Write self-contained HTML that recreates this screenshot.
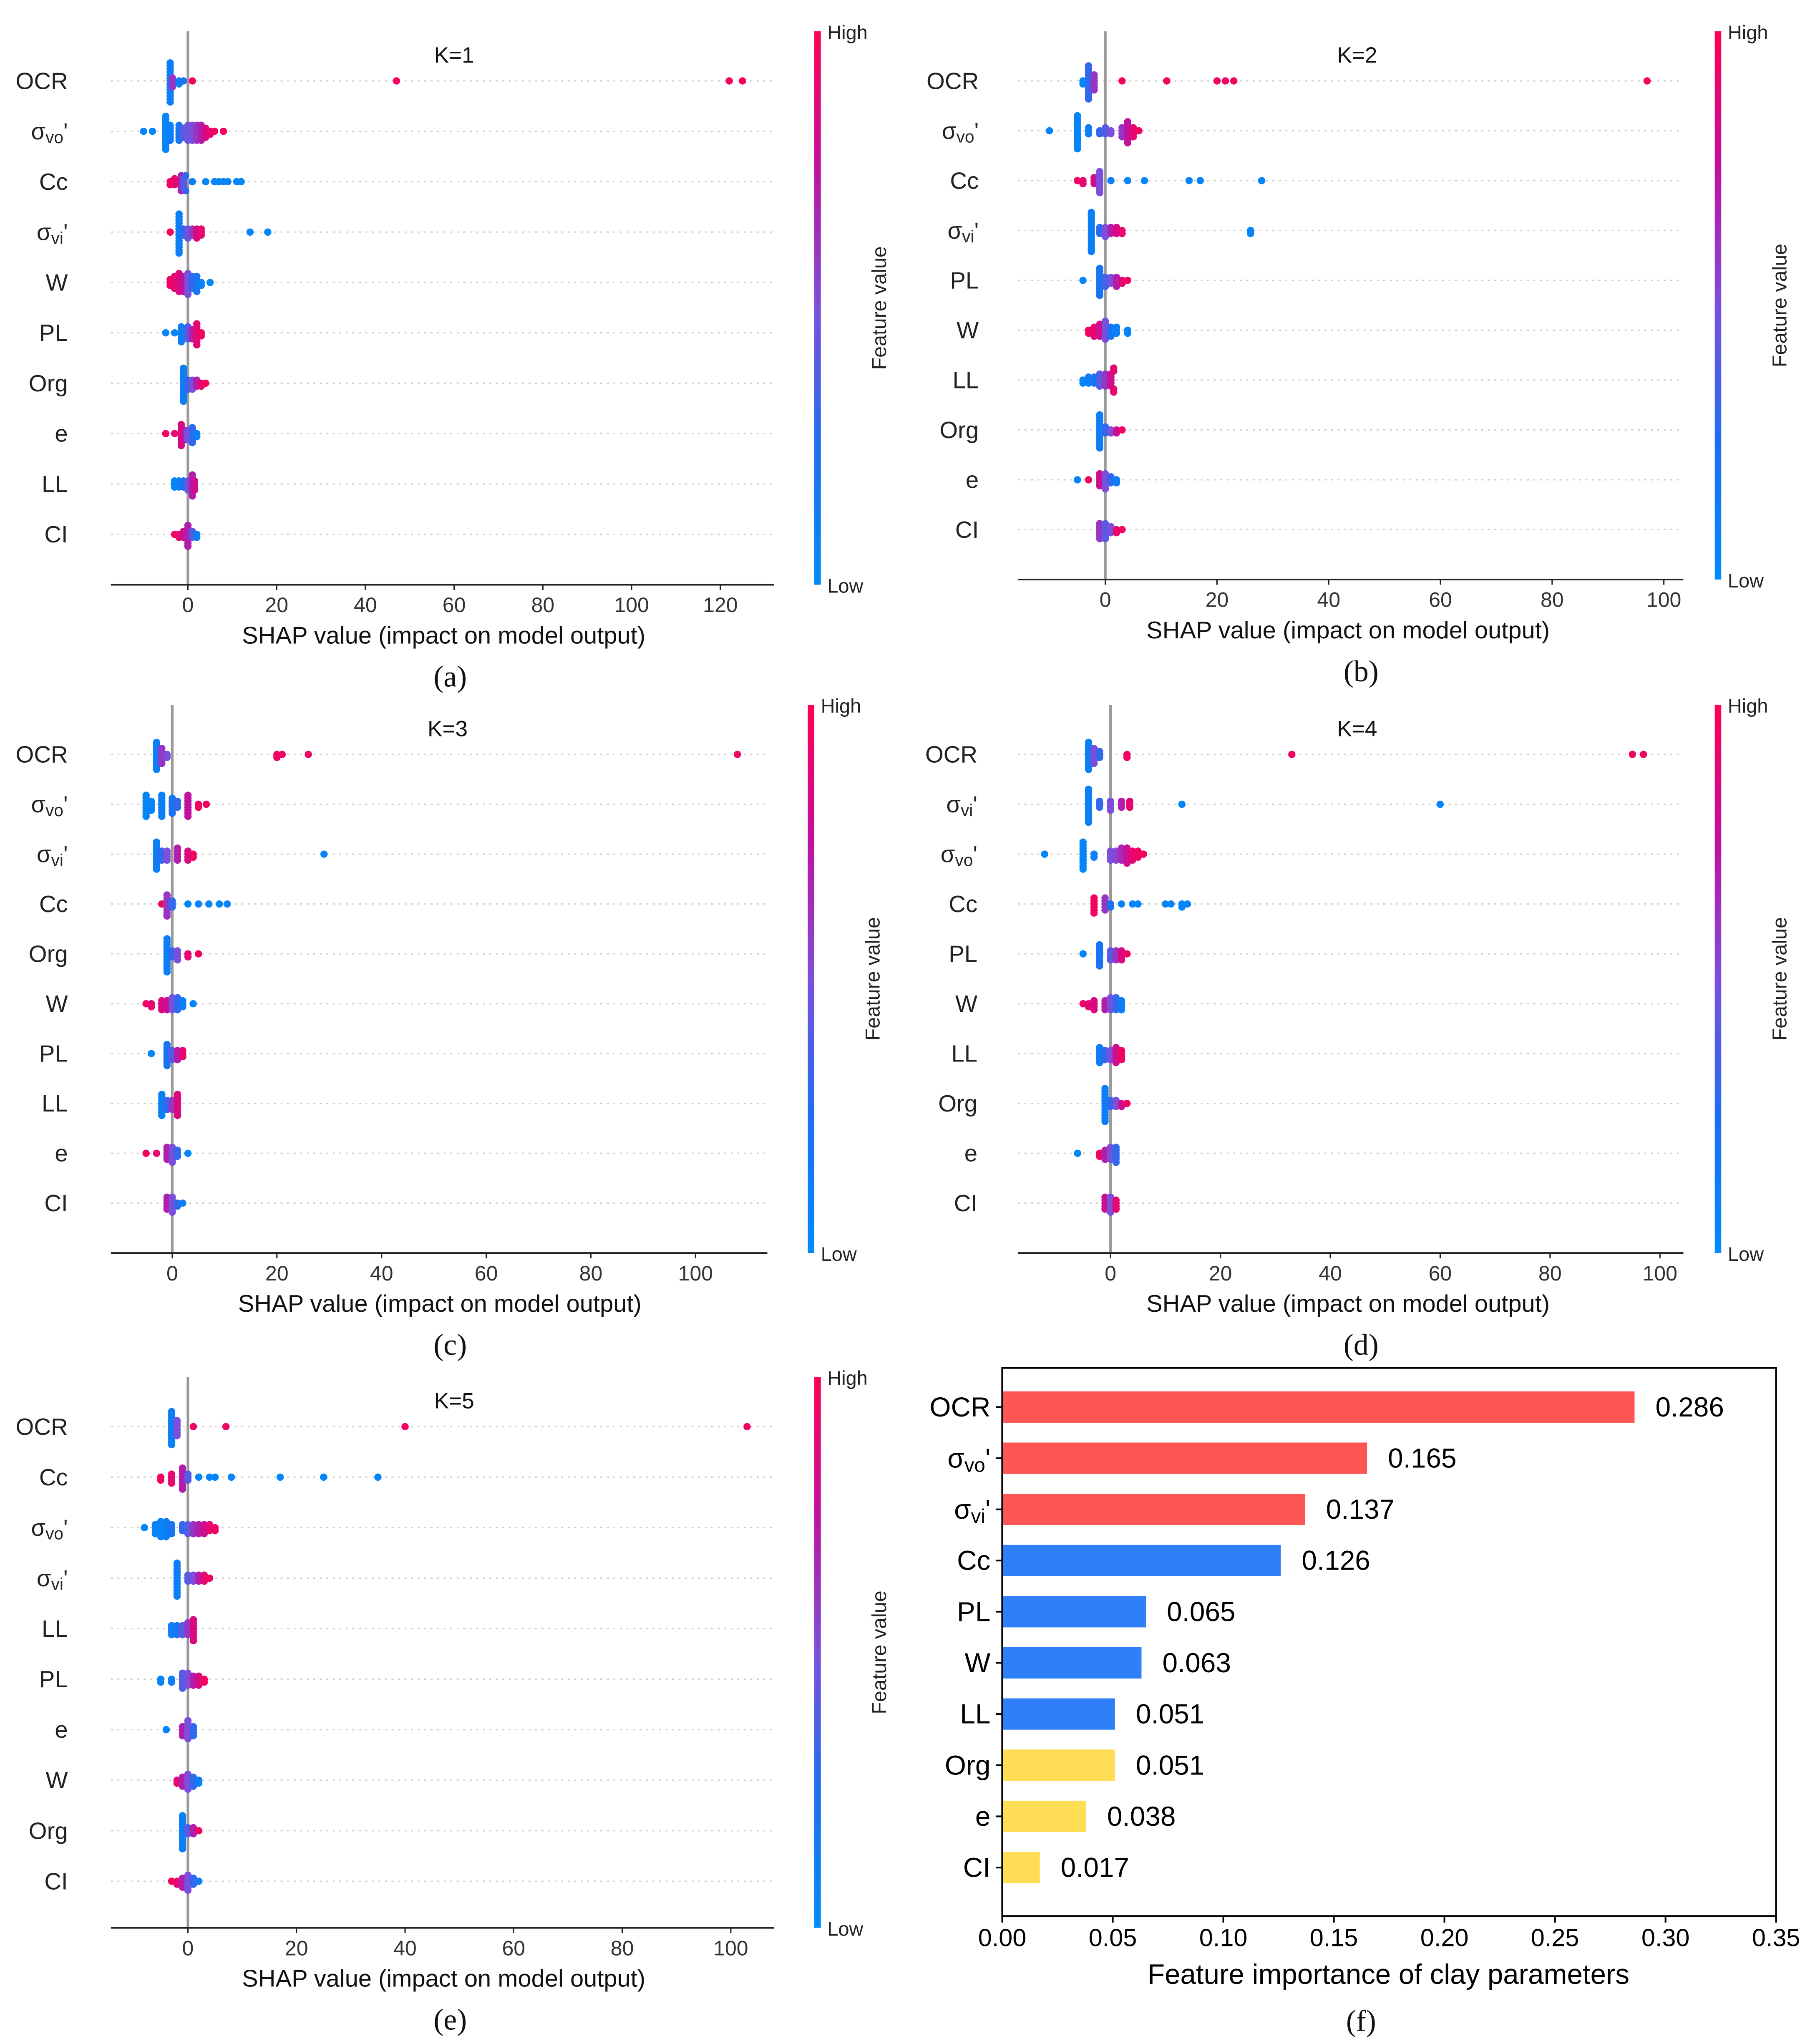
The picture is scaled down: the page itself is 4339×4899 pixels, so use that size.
<!DOCTYPE html>
<html><head><meta charset="utf-8">
<style>
html,body{margin:0;padding:0;background:#fff;}
svg{display:block;font-family:"Liberation Sans",Arial,sans-serif;}
</style></head>
<body>
<svg id="fig" xmlns="http://www.w3.org/2000/svg" width="4339" height="4899" viewBox="0 0 1387 1566" preserveAspectRatio="none">
<defs>
<linearGradient id="cmap" x1="0" y1="1" x2="0" y2="0">
<stop offset="0" stop-color="#008bfb"/>
<stop offset="0.25" stop-color="#1f6ef0"/>
<stop offset="0.5" stop-color="#7b4fdc"/>
<stop offset="0.75" stop-color="#c0119f"/>
<stop offset="1" stop-color="#ff0052"/>
</linearGradient>
</defs>
<rect x="0" y="0" width="1387" height="1566" fill="#fff"/>
</svg>
<script>
// ---------- DATA ----------
// each point group: [shap value, normalized feature value, count]
const featA=["OCR","svo","Cc","svi","W","PL","Org","e","LL","CI"];
const dataA=[
[[-4,0.1,14],[-3.5,0.6,4],[-2,0.1,2],[-1,0.2,1],[1,0.95,1],[47,0.95,1],[122,0.95,1],[125,0.95,1]],
[[-10,0.05,1],[-8,0.05,1],[-5,0.05,12],[-4,0.1,6],[-2,0.2,6],[-1,0.4,4],[0,0.45,6],[1,0.5,6],[2,0.6,6],[3,0.7,6],[4,0.85,4],[5,0.9,2],[6,0.95,1],[8,0.95,1]],
[[-4,0.95,2],[-3,0.9,3],[-1.5,0.7,6],[-1,0.4,4],[-0.5,0.3,2],[1,0.1,1],[4,0.05,1],[6,0.05,1],[7,0.05,1],[8,0.05,1],[9,0.05,1],[11,0.05,1],[12,0.05,1]],
[[-4,0.95,1],[-2,0.1,14],[-1,0.3,3],[0,0.45,4],[1,0.6,3],[2,0.85,4],[3,0.9,3],[14,0.05,1],[18,0.05,1]],
[[-4,0.95,3],[-3,0.9,5],[-2,0.85,7],[-1,0.75,6],[0,0.5,8],[1,0.3,5],[2,0.2,6],[3,0.1,2],[5,0.05,1]],
[[-5,0.05,1],[-3,0.05,1],[-1.5,0.1,6],[0,0.4,5],[1,0.7,4],[2,0.9,8],[3,0.95,2]],
[[-1,0.1,12],[0,0.3,4],[1,0.5,4],[2,0.7,3],[3,0.9,2],[4,0.95,1]],
[[-5,0.95,1],[-3,0.9,1],[-1.5,0.85,8],[-0.5,0.7,4],[0,0.5,4],[1,0.3,6],[2,0.1,2]],
[[-3,0.05,3],[-2,0.1,3],[-1,0.2,3],[0,0.45,4],[1,0.7,8],[1.5,0.8,4]],
[[-3,0.95,1],[-2,0.9,2],[-1,0.8,3],[0,0.7,8],[1,0.4,3],[2,0.1,2]]
];
const ticksA=[0,20,40,60,80,100,120];

const featB=["OCR","svo","Cc","svi","PL","W","LL","Org","e","CI"];
const dataB=[
[[-3,0.3,12],[-2,0.6,6],[-4,0.05,2],[3,0.95,1],[11,0.95,1],[20,0.95,1],[21.5,0.95,1],[23,0.95,1],[97,0.95,1]],
[[-10,0.05,1],[-5,0.05,12],[-3,0.1,3],[-1,0.3,2],[0,0.4,3],[1,0.5,2],[3,0.6,4],[4,0.75,8],[5,0.9,4],[6,0.95,1]],
[[-5,0.95,1],[-4,0.9,2],[-2,0.8,3],[-1,0.5,8],[1,0.1,1],[4,0.05,1],[7,0.05,1],[15,0.05,1],[17,0.05,1],[28,0.05,1]],
[[-2.5,0.1,14],[-1,0.3,3],[0,0.5,4],[1,0.7,3],[2,0.85,3],[3,0.9,2],[26,0.05,2]],
[[-4,0.05,1],[-1,0.2,10],[0,0.35,4],[1,0.5,3],[2,0.7,4],[3,0.9,2],[4,0.95,1]],
[[-3,0.95,2],[-2,0.9,4],[-1,0.8,5],[0,0.5,7],[1,0.2,4],[2,0.1,3],[4,0.05,2]],
[[-4,0.05,2],[-3,0.1,3],[-2,0.2,3],[-1,0.4,5],[0,0.6,5],[1,0.8,5],[1.5,0.9,4]],
[[-1,0.1,12],[0,0.3,3],[1,0.5,2],[2,0.8,2],[3,0.95,1]],
[[-5,0.05,1],[-3,0.95,1],[-1,0.8,5],[0,0.5,6],[1,0.3,3],[2,0.1,2]],
[[-1,0.6,6],[0,0.4,6],[1,0.5,3],[2,0.9,2],[3,0.95,1]]
];
const ticksB=[0,20,40,60,80,100];

const featC=["OCR","svo","svi","Cc","Org","W","PL","LL","e","CI"];
const dataC=[
[[-3,0.1,10],[-2,0.6,6],[-1,0.5,2],[20,0.95,2],[21,0.95,1],[26,0.95,1],[108,0.95,1]],
[[-5,0.05,8],[-4,0.05,4],[-2,0.1,8],[0,0.2,6],[1,0.3,3],[3,0.75,8],[5,0.95,2],[6.5,0.95,1]],
[[-3,0.1,10],[-2,0.3,4],[-1,0.5,4],[1,0.7,5],[3,0.85,4],[4,0.95,2],[29,0.05,1]],
[[-2,0.95,1],[-1,0.6,8],[0,0.3,3],[3,0.05,1],[5,0.05,1],[7,0.05,1],[9,0.05,1],[10.5,0.05,1]],
[[-1,0.1,12],[0,0.3,3],[1,0.5,4],[3,0.9,2],[5,0.95,1]],
[[-5,0.95,1],[-4,0.9,2],[-2,0.85,4],[-1,0.8,4],[0,0.5,5],[1,0.3,5],[2,0.1,3],[4,0.05,1]],
[[-4,0.05,1],[-1,0.2,8],[0,0.4,4],[1,0.7,4],[2,0.9,3]],
[[-2,0.1,8],[-1,0.3,4],[0,0.6,4],[1,0.85,8]],
[[-5,0.95,1],[-3,0.9,1],[-1,0.7,5],[0,0.5,6],[1,0.3,3],[3,0.05,1]],
[[-1,0.7,5],[0,0.5,6],[1,0.3,2],[2,0.1,1]]
];
const ticksC=[0,20,40,60,80,100];

const featD=["OCR","svi","svo","Cc","PL","W","LL","Org","e","CI"];
const dataD=[
[[-4,0.1,10],[-3,0.5,6],[-2,0.3,3],[3,0.95,2],[33,0.95,1],[95,0.95,1],[97,0.95,1]],
[[-4,0.1,12],[-2,0.3,3],[0,0.5,4],[2,0.7,3],[3.5,0.9,3],[13,0.05,1],[60,0.05,1]],
[[-12,0.05,1],[-5,0.05,10],[-3,0.1,2],[0,0.5,4],[1,0.55,4],[2,0.65,5],[3,0.8,6],[4,0.9,4],[5,0.95,3],[6,0.95,1]],
[[-3,0.95,6],[-1,0.6,5],[0,0.2,2],[2,0.05,1],[4,0.05,1],[5,0.05,1],[10,0.05,1],[11,0.05,1],[13,0.05,2],[14,0.05,1]],
[[-5,0.05,1],[-2,0.2,8],[0,0.4,4],[1,0.6,4],[2,0.85,4],[3,0.95,1]],
[[-5,0.95,1],[-4,0.9,2],[-3,0.85,4],[-1,0.7,4],[0,0.5,5],[1,0.3,5],[2,0.1,4]],
[[-2,0.1,6],[-1,0.3,4],[0,0.5,4],[1,0.8,6],[2,0.95,4]],
[[-1,0.1,12],[0,0.3,3],[1,0.5,3],[2,0.8,2],[3,0.95,1]],
[[-6,0.05,1],[-2,0.95,2],[-1,0.7,4],[0,0.5,5],[1,0.3,6]],
[[-1,0.8,5],[0,0.5,6],[1,0.9,4]]
];
const ticksD=[0,20,40,60,80,100];

const featE=["OCR","Cc","svo","svi","LL","PL","e","W","Org","CI"];
const dataE=[
[[-3,0.1,12],[-2,0.5,6],[1,0.95,1],[7,0.95,1],[40,0.95,1],[103,0.95,1]],
[[-5,0.95,2],[-3,0.9,4],[-1,0.7,8],[0,0.4,3],[2,0.05,1],[4,0.05,1],[5,0.05,1],[8,0.05,1],[17,0.05,1],[25,0.05,1],[35,0.05,1]],
[[-8,0.05,1],[-6,0.05,4],[-5,0.05,6],[-4,0.1,6],[-3,0.2,4],[-1,0.3,3],[0,0.4,4],[1,0.6,4],[2,0.7,4],[3,0.8,4],[4,0.9,3],[5,0.95,2]],
[[-2,0.1,12],[0,0.4,3],[1,0.5,3],[2,0.7,3],[3,0.9,3],[4,0.95,1]],
[[-3,0.1,4],[-2,0.2,4],[-1,0.4,4],[0,0.6,5],[1,0.85,8]],
[[-5,0.05,2],[-3,0.1,2],[-1,0.4,6],[0,0.5,5],[1,0.7,4],[2,0.85,4],[3,0.95,2]],
[[-4,0.05,1],[-1,0.7,4],[0,0.5,7],[1,0.3,4]],
[[-2,0.9,2],[-1,0.7,4],[0,0.5,6],[1,0.3,4],[2,0.1,2]],
[[-1,0.1,12],[0,0.4,3],[1,0.7,3],[2,0.95,1]],
[[-3,0.95,1],[-2,0.9,2],[-1,0.7,4],[0,0.5,6],[1,0.3,3],[2,0.1,1]]
];
const ticksE=[0,20,40,60,80,100];

const featF=["OCR","svo","svi","Cc","PL","W","LL","Org","e","CI"];
const importF=[0.286,0.165,0.137,0.126,0.065,0.063,0.051,0.051,0.038,0.017];
const groupF=[0,0,0,1,1,1,1,2,2,2];
const ticksF=[0,0.05,0.10,0.15,0.20,0.25,0.30,0.35];

// ---------- RENDER ----------
const NS="http://www.w3.org/2000/svg";
const svg=document.getElementById("fig");
function mk(tag,attrs,parent){const e=document.createElementNS(NS,tag);for(const k in attrs)e.setAttribute(k,attrs[k]);(parent||svg).appendChild(e);return e;}
function lerp(a,b,t){return Math.round(a+(b-a)*t);}
const stops=[[0,[0,139,251]],[0.25,[31,110,240]],[0.5,[123,79,220]],[0.75,[192,17,159]],[1,[255,0,82]]];
function cmap(v){for(let i=1;i<stops.length;i++){if(v<=stops[i][0]){const t=(v-stops[i-1][0])/(stops[i][0]-stops[i-1][0]);const a=stops[i-1][1],b=stops[i][1];return `rgb(${lerp(a[0],b[0],t)},${lerp(a[1],b[1],t)},${lerp(a[2],b[2],t)})`;}}return "rgb(255,0,82)";}

function featLabel(f,x,y,size,g){
  const t=mk("text",{x:x,y:y,"text-anchor":"end","font-size":size,fill:"#222","dominant-baseline":"central"},g);
  
  
  if(f==="svo"||f==="svi"){
    t.appendChild(document.createTextNode("σ"));
    const s=mk("tspan",{"font-size":size*0.72,dy:size*0.25},t);s.textContent=f==="svo"?"vo":"vi";
    const q=mk("tspan",{dy:-size*0.25},t);q.textContent="'";
  } else t.textContent=f;
  return t;
}

function shapPanel(P,feats,data,ticks){
  const g=mk("g",{});
  
  
  const X=v=>P.zero+v*P.scale;
  feats.forEach((f,i)=>{
    const y=P.row0+i*P.step;
    const gl=mk("line",{x1:P.left,x2:P.right,y1:y,y2:y,stroke:"#ccc","stroke-width":1,"stroke-dasharray":"1.5,3.5"},g);
    
    
    featLabel(f,P.labX,y,18,g);
  });
  const zl=mk("line",{x1:X(0),x2:X(0),y1:P.top,y2:P.axisY,stroke:"#999","stroke-width":2},g);
  
  
  const r=2.8, dy=2.3;
  data.forEach((row,i)=>{
    const y=P.row0+i*P.step;
    const pts=[];
    row.forEach(p=>{for(let k=0;k<p[2];k++)pts.push([p[0],p[1]]);});
    const bins={};
    pts.forEach((p,j)=>{
      const px=X(p[0]);const b=Math.round(px/3);
      const n=bins[b]||0;bins[b]=n+1;
      const off=(n%2?1:-1)*Math.ceil(n/2)*dy;
      const c=mk("circle",{cx:px,cy:y+off,r:r,fill:cmap(p[1])},g);
      
      
    });
  });
  const ax=mk("line",{x1:P.left,x2:P.right,y1:P.axisY,y2:P.axisY,stroke:"#222","stroke-width":1.3},g);
  
  
  ticks.forEach(t=>{
    const tk=mk("line",{x1:X(t),x2:X(t),y1:P.axisY,y2:P.axisY+4,stroke:"#222","stroke-width":1},g);
    
    
    const tl=mk("text",{x:X(t),y:P.axisY+21,"text-anchor":"middle","font-size":16,fill:"#333"},g);
    
    
    tl.textContent=t;
  });
  const xl=mk("text",{x:P.xlabX,y:P.axisY+45,"text-anchor":"middle","font-size":18.5,fill:"#111"},g);
  
  
  xl.textContent="SHAP value (impact on model output)";
  const ti=mk("text",{x:P.titleX,y:P.top+24,"text-anchor":"middle","font-size":17,fill:"#111"},g);
  
  
  ti.textContent=P.title;
  const cb=mk("rect",{x:P.cbX,y:P.top,width:5,height:P.axisY-P.top,fill:"url(#cmap)"},g);
  
  
  const hi=mk("text",{x:P.cbX+10,y:P.top+6,"font-size":15,fill:"#222"},g);
  
  
  hi.textContent="High";
  const lo=mk("text",{x:P.cbX+10,y:P.axisY+6,"font-size":15,fill:"#222"},g);
  
  
  lo.textContent="Low";
  const cy=(P.top+P.axisY)/2;
  const fv=mk("text",{x:P.cbX+55,y:cy,"text-anchor":"middle","font-size":15.5,fill:"#222",transform:`rotate(-90 ${P.cbX+55} ${cy})`},g);
  
  
  fv.textContent="Feature value";
  const lt=mk("text",{x:P.letX,y:P.axisY+78,"text-anchor":"middle","font-size":23,fill:"#111","font-family":"Liberation Serif, serif"},g);
  
  
  lt.textContent=P.letter;
}

shapPanel({name:"panel-a",zero:144,scale:3.4,left:85,right:593,top:24,axisY:448,row0:62,step:38.6,labX:52,xlabX:340,titleX:348,cbX:624,title:"K=1",letX:345,letter:"(a)"},featA,dataA,ticksA);
shapPanel({name:"panel-b",zero:847,scale:4.28,left:780,right:1290,top:24,axisY:444,row0:62,step:38.2,labX:750,xlabX:1033,titleX:1040,cbX:1314,title:"K=2",letX:1043,letter:"(b)"},featB,dataB,ticksB);
shapPanel({name:"panel-c",zero:132,scale:4.01,left:85,right:588,top:540,axisY:960,row0:578,step:38.2,labX:52,xlabX:337,titleX:343,cbX:619,title:"K=3",letX:345,letter:"(c)"},featC,dataC,ticksC);
shapPanel({name:"panel-d",zero:851,scale:4.21,left:780,right:1290,top:540,axisY:960,row0:578,step:38.2,labX:749,xlabX:1033,titleX:1040,cbX:1314,title:"K=4",letX:1043,letter:"(d)"},featD,dataD,ticksD);
shapPanel({name:"panel-e",zero:144,scale:4.16,left:85,right:593,top:1055,axisY:1477,row0:1093,step:38.7,labX:52,xlabX:340,titleX:348,cbX:624,title:"K=5",letX:345,letter:"(e)"},featE,dataE,ticksE);

// ---------- Panel f: bar chart ----------
(function(){
  const g=mk("g",{});
  
  
  const L=768,R=1361,T=1048,B=1468,row0=1078,step=39.2,bh=24;
  const X=v=>L+(v/0.35)*(R-L);
  const colors=["#ff5555","#2e7ff8","#ffdd55"];
  featF.forEach((f,i)=>{
    const y=row0+i*step;
    const b=mk("rect",{x:X(0),y:y-bh/2,width:X(importF[i])-X(0),height:bh,fill:colors[groupF[i]]},g);
    
    
    const v=mk("text",{x:X(importF[i])+16,y:y,"font-size":21,fill:"#000","dominant-baseline":"central"},g);
    
    
    v.textContent=importF[i].toFixed(3);
    const tk=mk("line",{x1:L-5,x2:L,y1:y,y2:y,stroke:"#000","stroke-width":1.3},g);
    
    
    const lb=featLabel(f,L-9,y,21,g);
    lb.setAttribute('fill','#000');
  });
  const fr=mk("rect",{x:L,y:T,width:R-L,height:B-T,fill:"none",stroke:"#000","stroke-width":1.4},g);
  
  
  ticksF.forEach(t=>{
    const tk=mk("line",{x1:X(t),x2:X(t),y1:B,y2:B+5,stroke:"#000","stroke-width":1.3},g);
    
    
    const tl=mk("text",{x:X(t),y:B+23,"text-anchor":"middle","font-size":19,fill:"#000"},g);
    
    
    tl.textContent=t.toFixed(2);
  });
  const xl=mk("text",{x:1064,y:1520,"text-anchor":"middle","font-size":21.5,fill:"#000"},g);
  
  
  xl.textContent="Feature importance of clay parameters";
  const lt=mk("text",{x:1043,y:1556,"text-anchor":"middle","font-size":23,fill:"#111","font-family":"Liberation Serif, serif"},g);
  
  
  lt.textContent="(f)";
})();
</script>
</body></html>
